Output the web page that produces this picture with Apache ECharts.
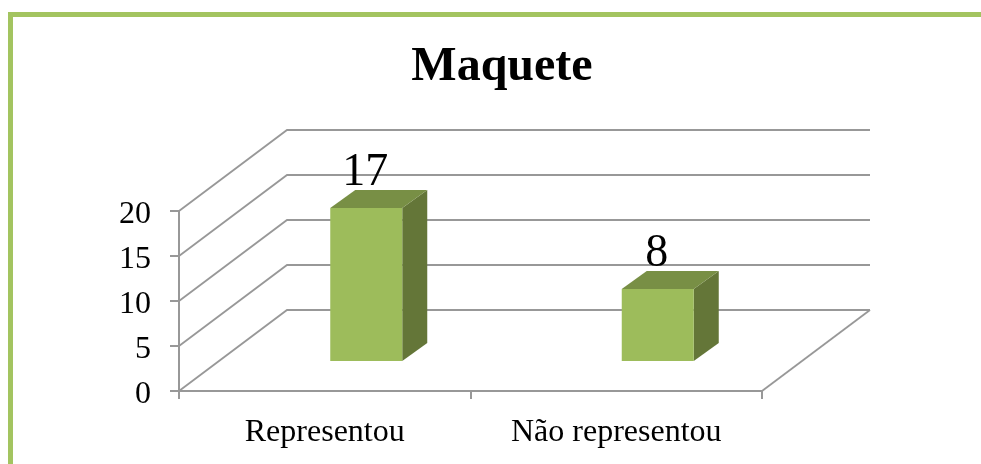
<!DOCTYPE html>
<html>
<head>
<meta charset="utf-8">
<style>html,body{margin:0;padding:0;background:#fff}#main{width:981px;height:464px}</style>
<script src="https://cdn.jsdelivr.net/npm/echarts@6/dist/echarts.min.js"></script>
</head>
<body>
<div id="main"></div>
<script>
var titleText = 'Maquete';
var categories = ['Representou', 'Não representou'];
var values = [17, 8];
var yTicks = [0, 5, 10, 15, 20];

var SERIF = '"Liberation Serif", "Times New Roman", serif';
var GREEN = '#9dbc5b', GREEN_TOP = '#788f45', GREEN_SIDE = '#647638', GRID = '#989898', FRAME = '#a3c460';
// 3D box: depth of the walls and of the bars, and where a bar stands on the floor
var WALL_DX = 108, WALL_DY = 81;
var BAR_W = 72, BAR_DX = 25, BAR_DY = 18;
var FLOOR_DX = 41.5, FLOOR_DY = 30;

//墙上的网格线
function renderWall(params, api) {
  var box = params.coordSys;
  var p = api.coord([0, api.value(1)]);
  return {
    type: 'polyline',
    silent: true,
    shape: { points: [[box.x, p[1]], [box.x + WALL_DX, p[1] - WALL_DY], [box.x + box.width + WALL_DX, p[1] - WALL_DY]] },
    style: { fill: null, stroke: GRID, lineWidth: 1.8 }
  };
}

function renderFloor(params, api) {
  var box = params.coordSys;
  var y0 = api.coord([0, 0])[1];
  return {
    type: 'polyline',
    silent: true,
    shape: { points: [[box.x + box.width, y0], [box.x + box.width + WALL_DX, y0 - WALL_DY]] },
    style: { fill: null, stroke: GRID, lineWidth: 1.8 }
  };
}

function renderBar(params, api) {
  var val = api.value(1);
  var base = api.coord([api.value(0), 0]);
  var top = api.coord([api.value(0), val]);
  var x0 = base[0] + FLOOR_DX - BAR_W / 2, x1 = x0 + BAR_W;
  var yb = base[1] - FLOOR_DY, yt = top[1] - FLOOR_DY;
  return {
    type: 'group',
    children: [
      { type: 'polygon', shape: { points: [[x1, yt], [x1 + BAR_DX, yt - BAR_DY], [x1 + BAR_DX, yb - BAR_DY], [x1, yb]] }, style: { fill: GREEN_SIDE } },
      { type: 'polygon', shape: { points: [[x0, yt], [x0 + BAR_DX, yt - BAR_DY], [x1 + BAR_DX, yt - BAR_DY], [x1, yt]] }, style: { fill: GREEN_TOP } },
      { type: 'rect', shape: { x: x0, y: yt, width: BAR_W, height: yb - yt }, style: { fill: GREEN } },
      { type: 'text', style: { text: String(val), x: x0 + BAR_W / 2 - 1, y: yt - 35, fill: '#000', font: '46px ' + SERIF, align: 'center', verticalAlign: 'middle' } }
    ]
  };
}

var chart = echarts.init(document.getElementById('main'), null, { renderer: 'canvas' });
chart.setOption({
  animation: false,
  backgroundColor: '#fff',
  title: {
    text: titleText,
    left: 497,
    top: 39,
    textAlign: 'center',
    textStyle: { fontFamily: SERIF, fontSize: 48, fontWeight: 'bold', color: '#000' }
  },
  grid: { left: 179, top: 211, width: 583, height: 180 },
  xAxis: {
    type: 'category',
    data: categories,
    axisLine: { lineStyle: { color: GRID, width: 2 } },
    axisTick: { show: true, length: 8, lineStyle: { color: GRID, width: 2 } },
    axisLabel: { fontFamily: SERIF, fontSize: 32, color: '#000', margin: 26 }
  },
  yAxis: {
    type: 'value',
    min: 0,
    max: 20,
    interval: 5,
    splitLine: { show: false },
    axisLine: { show: true, lineStyle: { color: GRID, width: 2 } },
    axisTick: { show: true, length: 9, lineStyle: { color: GRID, width: 2 } },
    axisLabel: { fontFamily: SERIF, fontSize: 32, color: '#000', margin: 28, verticalAlign: 'top', lineHeight: 7 }
  },
  series: [
    { type: 'custom', renderItem: renderWall, clip: false, z: 1, data: yTicks.map(function (v) { return [0, v]; }) },
    { type: 'custom', renderItem: renderFloor, clip: false, z: 1, data: [[0, 0]] },
    { type: 'custom', renderItem: renderBar, clip: false, z: 5, data: values.map(function (v, i) { return [i, v]; }) }
  ],
  graphic: [
    { type: 'rect', left: 8, top: 12, shape: { width: 973, height: 5 }, style: { fill: FRAME } },
    { type: 'rect', left: 8, top: 12, shape: { width: 5, height: 452 }, style: { fill: FRAME } }
  ]
});
</script>
</body>
</html>
